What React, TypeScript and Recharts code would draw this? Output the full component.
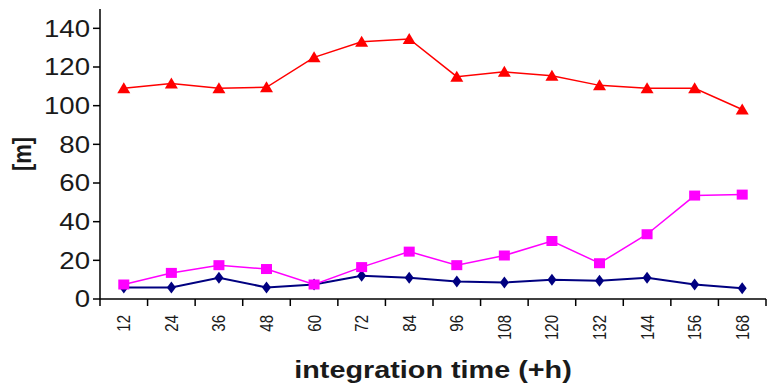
import { Label, Line, LineChart, XAxis, YAxis } from "recharts"

const hours = ["12", "24", "36", "48", "60", "72", "84", "96", "108", "120", "132", "144", "156", "168"]
const navyVals = [6, 6, 11, 6, 7.5, 12, 11, 9, 8.5, 10, 9.5, 11, 7.5, 5.5]
const pinkVals = [7.5, 13.5, 17.5, 15.5, 7.5, 16.5, 24.5, 17.5, 22.5, 30, 18.5, 33.5, 53.5, 54]
const redVals = [109, 111.5, 109, 109.5, 125, 133, 134.5, 115, 117.5, 115.5, 110.5, 109, 109, 98]
const yTicks = [0, 20, 40, 60, 80, 100, 120, 140]

const data = hours.map((h, i) => ({
  hour: h,
  navy: navyVals[i],
  pink: pinkVals[i],
  red: redVals[i],
}))

const FONT = "'Liberation Sans', Arial, sans-serif"
const TEXT = "#1a1a1a"
const LABEL_GAP = 16
const TICK_LEN = 7

// the source image is stretched ~1.2x horizontally, text included
const SX = 1.2

const Triangle = ({ cx, cy }: any) => (
  <polygon points={`${cx},${cy - 6} ${cx - 6.5},${cy + 5} ${cx + 6.5},${cy + 5}`} fill="#ff0000" />
)
const Square = ({ cx, cy }: any) => <rect x={cx - 5.5} y={cy - 5} width={11} height={10} fill="#ff00ff" />
const Diamond = ({ cx, cy }: any) => (
  <polygon points={`${cx},${cy - 6} ${cx + 4.5},${cy} ${cx},${cy + 6} ${cx - 4.5},${cy}`} fill="#000080" />
)

const YTick = ({ x, y, payload }: any) => (
  <g transform={`translate(${x},${y}) scale(${SX},1)`}>
    <text textAnchor="end" dy="0.36em" fontSize={23} fontFamily={FONT} fill={TEXT}>
      {payload.value}
    </text>
  </g>
)

// Excel-style: tick marks sit between the categories, label in the middle
const XTick = ({ x, y, payload, index, visibleTicksCount }: any) => {
  const half = payload.offset ?? 0
  const axisY = y - LABEL_GAP
  return (
    <g>
      <line x1={x - half} x2={x - half} y1={axisY} y2={axisY + TICK_LEN} stroke="#000" strokeWidth={1.5} />
      {index === visibleTicksCount - 1 && (
        <line x1={x + half} x2={x + half} y1={axisY} y2={axisY + TICK_LEN} stroke="#000" strokeWidth={1.5} />
      )}
      <g transform={`translate(${x},${y}) scale(${SX},1) rotate(-90)`}>
        <text textAnchor="end" dy="0.36em" fontSize={15} fontFamily={FONT} fill={TEXT}>
          {payload.value}
        </text>
      </g>
    </g>
  )
}

export default function App() {
  return (
    <div style={{ position: "absolute", left: 0, top: 0, background: "#fff" }}>
      <LineChart width={767} height={383} data={data} margin={{ top: 9, right: 1, left: 0, bottom: 0 }}>
        <XAxis
          dataKey="hour"
          scale="band"
          height={84}
          stroke="#000"
          strokeWidth={1.5}
          tickLine={false}
          tickMargin={LABEL_GAP}
          tickSize={0}
          interval={0}
          tick={<XTick />}
        >
          <Label
            position="insideBottom"
            content={({ viewBox }: any) => (
              <g transform={`translate(${viewBox.x + viewBox.width / 2},${viewBox.y + viewBox.height - 5}) scale(${SX},1)`}>
                <text textAnchor="middle" fontSize={24} fontWeight="bold" fontFamily={FONT} fill={TEXT}>
                  integration time (+h)
                </text>
              </g>
            )}
          />
        </XAxis>
        <YAxis
          width={100}
          domain={[0, 150]}
          ticks={yTicks}
          tickSize={TICK_LEN}
          tickMargin={3}
          stroke="#000"
          strokeWidth={1.5}
          tick={<YTick />}
        >
          <Label
            content={({ viewBox }: any) => (
              <g transform={`translate(${viewBox.x + 21},${viewBox.y + viewBox.height / 2}) scale(${SX},1) rotate(-90)`}>
                <text textAnchor="middle" dy="0.36em" fontSize={22} fontWeight="bold" fontFamily={FONT} fill={TEXT}>
                  [m]
                </text>
              </g>
            )}
          />
        </YAxis>
        <Line
          dataKey="navy"
          stroke="#000080"
          strokeWidth={2}
          dot={(p: any) => <Diamond key={`n${p.index}`} cx={p.cx} cy={p.cy} />}
          isAnimationActive={false}
        />
        <Line
          dataKey="pink"
          stroke="#ff00ff"
          strokeWidth={1.5}
          dot={(p: any) => <Square key={`p${p.index}`} cx={p.cx} cy={p.cy} />}
          isAnimationActive={false}
        />
        <Line
          dataKey="red"
          stroke="#ff0000"
          strokeWidth={1.5}
          dot={(p: any) => <Triangle key={`r${p.index}`} cx={p.cx} cy={p.cy} />}
          isAnimationActive={false}
        />
      </LineChart>
    </div>
  )
}
